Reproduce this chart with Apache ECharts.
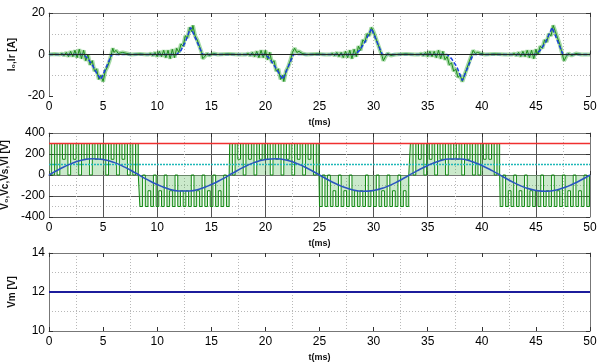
<!DOCTYPE html>
<html>
<head>
<meta charset="utf-8">
<script src="https://cdn.jsdelivr.net/npm/echarts@6/dist/echarts.min.js"></script>
<style>
  html, body { margin: 0; padding: 0; background: #fff; }
  #chart { width: 598px; height: 363px; }
</style>
</head>
<body>
<div id="chart"></div>
<script>
// ---- data ----
const xTicks = [0, 5, 10, 15, 20, 25, 30, 35, 40, 45, 50];

// reference current Ir (blue dashed), [t(ms), A]
const irPoints = [
  [0, 0], [3.2, 0], [3.6, -2], [4.0, -5], [4.4, -9], [4.8, -12], [5.8, 0],
  [11.8, 0], [12.2, 2], [12.6, 6], [13.1, 13], [14.2, 0],
  [20.0, 0], [20.4, -2], [20.9, -6], [21.6, -12], [22.6, 0],
  [28.3, 0], [28.7, 2], [29.2, 6], [29.8, 12.5], [30.8, 0],
  [36.8, 0], [37.2, -2], [37.7, -6], [38.2, -12.5], [39.2, 0],
  [45.0, 0], [45.4, 2], [45.9, 6], [46.5, 13], [47.5, 0], [50, 0]
];

// measured current Io (green, noisy), [t(ms), A]
const ioPoints = [
  [0, 0], [0.5, 0.2], [1.0, 0], [1.2, 0.5], [1.4, -0.5], [1.6, 1], [1.8, -1], [2.0, 1.5],
  [2.2, -1], [2.4, 2], [2.6, -1.5], [2.8, 2.5], [3.0, -2], [3.2, 2], [3.4, -3], [3.6, 0],
  [3.8, -5], [4.0, -3], [4.2, -8], [4.4, -7], [4.6, -12], [4.8, -10], [5.0, -13], [5.2, -8],
  [5.4, -6], [5.6, -3], [5.8, 1], [5.9, 3], [6.0, 1], [6.2, 2], [6.4, 0.5], [6.8, 1],
  [7.2, 0.5], [7.6, 0], [8.4, 0.3], [9.0, 0],
  [9.2, 0], [9.4, 0.5], [9.6, -0.5], [9.8, 1], [10.0, -1], [10.2, 1.5], [10.4, -1], [10.6, 2],
  [10.8, -1.5], [11.0, 2], [11.2, -2], [11.4, 2.5], [11.6, -1.5], [11.8, 3], [12.0, 1], [12.2, 5],
  [12.4, 4], [12.6, 9], [12.8, 8], [13.0, 13], [13.2, 11], [13.3, 14], [13.5, 9], [13.7, 7],
  [13.9, 4], [14.1, 1], [14.2, -2], [14.4, -1], [14.6, 0.5], [14.8, -0.5], [15.2, 0.5], [15.6, 0],
  [16.6, 0.3], [17.5, 0],
  [18.2, 0], [18.4, 0.5], [18.6, -0.5], [18.8, 1], [19.0, -1], [19.2, 1.5], [19.4, -1.5], [19.6, 2],
  [19.8, -1.5], [20.0, 2], [20.2, -2.5], [20.4, 1], [20.6, -4], [20.8, -3], [21.0, -8], [21.2, -7],
  [21.4, -12], [21.6, -10], [21.7, -13], [21.9, -8], [22.1, -6], [22.3, -3], [22.5, 1], [22.7, 3],
  [22.9, 1], [23.1, 1.5], [23.4, 0.5], [23.8, 0], [24.8, 0.3], [25.5, 0],
  [26.0, 0], [26.2, 0.5], [26.4, -0.5], [26.6, 1], [26.8, -1], [27.0, 1], [27.2, -1.5], [27.4, 1.5],
  [27.6, -1.5], [27.8, 2], [28.0, -2], [28.2, 2.5], [28.4, -1], [28.6, 4], [28.8, 2], [29.0, 7],
  [29.2, 6], [29.4, 10], [29.6, 9], [29.8, 13], [30.0, 11], [30.2, 8], [30.4, 5], [30.6, 2],
  [30.8, -1], [30.9, -3], [31.1, -1], [31.3, 0.5], [31.6, -0.5], [32.0, 0], [33.0, 0.3], [33.8, 0],
  [34.2, 0], [34.4, 0.5], [34.6, -0.5], [34.8, 1], [35.0, -1], [35.2, 1.5], [35.4, -1], [35.6, 1.5],
  [35.8, -1.5], [36.0, 2], [36.2, -2], [36.4, 1.5], [36.6, -2.5], [36.8, -1], [37.0, -5], [37.2, -4],
  [37.4, -8], [37.6, -7], [37.8, -11], [38.0, -10], [38.2, -13], [38.4, -10], [38.6, -7], [38.8, -4],
  [39.0, -1], [39.2, 2], [39.4, 0.5], [39.6, 1], [39.9, 0.5], [40.3, 0], [41.2, 0.3], [42.2, 0],
  [42.8, 0], [43.0, 0.5], [43.2, -0.5], [43.4, 1], [43.6, -1], [43.8, 1.5], [44.0, -1], [44.2, 2],
  [44.4, -1.5], [44.6, 2], [44.8, -2], [45.0, 2.5], [45.2, 0], [45.4, 4], [45.6, 3], [45.8, 7],
  [46.0, 6], [46.2, 10], [46.4, 9], [46.6, 14], [46.8, 11], [47.0, 8], [47.2, 5], [47.4, 1],
  [47.6, -3], [47.8, -1], [48.0, 0.5], [48.3, -0.5], [48.7, 0.5], [49.2, 0], [50, 0]
];

// capacitor / load voltage Vc (blue sine), sampled every 1 ms
const vcTimes = [0, 1, 2, 3, 4, 5, 6, 7, 8, 9, 10, 11, 12, 13, 14, 15, 16, 17, 18, 19, 20,
  21, 22, 23, 24, 25, 26, 27, 28, 29, 30, 31, 32, 33, 34, 35, 36, 37, 38, 39, 40,
  41, 42, 43, 44, 45, 46, 47, 48, 49, 50];
const vcValues = [0, 57, 106, 140, 155, 147, 120, 75, 19, -39, -91, -131, -152, -152, -131, -91, -39, 19, 75, 120, 147,
  155, 140, 106, 57, 0, -57, -106, -140, -155, -147, -120, -75, -19, 39, 91, 131, 152, 152, 131, 91,
  39, -19, -75, -120, -147, -155, -140, -106, -57, 0];

// source Vs (red) and Vl (cyan) levels
const vsTimes = [0, 50];
const vsValues = [300, 300];
const vlTimes = [0, 50];
const vlValues = [100, 100];

// inverter output Vo (green PWM): start of each half cycle and its levels every 0.25 ms
const halfStarts = [0, 8.4, 16.7, 25.0, 33.4, 41.7];
const pwmStep = 0.25;
const pwmLevels = [
  [300, 0, 300, 0, 300, 150, 300, 0, 300, 150, 300, 0, 300, 150, 300, 0, 300, 150, 300, 150, 300, 0, 300, 150, 300, 0, 300, 150, 300, 0, 300, 0, 300],
  [-300, 0, -300, -150, -300, 0, -300, -150, -300, 0, -300, -150, -300, 0, -300, -150, -300, -150, -300, 0, -300, -150, -300, 0, -300, -150, -300, 0, -300, -150, -300, 0, -300],
  [300, 0, 300, 150, 300, 0, 300, 150, 300, 0, 300, 150, 300, 150, 300, 0, 300, 150, 300, 0, 300, 150, 300, 0, 300, 150, 300, 0, 300, 150, 300, 0, 300],
  [-300, 0, -300, 0, -300, -150, -300, 0, -300, -150, -300, 0, -300, -150, -300, -150, -300, 0, -300, -150, -300, 0, -300, -150, -300, 0, -300, -150, -300, 0, -300, -150, -300],
  [300, 0, 300, 150, 300, 0, 300, 150, 300, 0, 300, 150, 300, 0, 300, 150, 300, 150, 300, 0, 300, 150, 300, 0, 300, 0, 300, 150, 300, 150, 300, 0, 300],
  [-300, 0, -300, -150, -300, 0, -300, -150, -300, 0, -300, -150, -300, -150, -300, 0, -300, -150, -300, 0, -300, -150, -300, 0, -300, -150, -300, 0, -300, -150, -300, 0, -300]
];

// motor voltage Vm
const vmTimes = [0, 50];
const vmValues = [12, 12];

// ---- build ----
const zip = (xs, ys) => xs.map((x, i) => [x, ys[i]]);

const pwmData = [];
halfStarts.forEach((t0, h) => {
  const lv = pwmLevels[h];
  lv.forEach((v, i) => pwmData.push([+(t0 + i * pwmStep).toFixed(3), v]));
  pwmData.push([+(t0 + lv.length * pwmStep).toFixed(3), 0]);
});
pwmData.push([50, 0]);

const font = "'Liberation Sans', Arial, sans-serif";
const grids = [
  { left: 49, right: 8, top: 13, height: 83, outerBoundsMode: 'none' },
  { left: 49, right: 8, top: 133, height: 84, outerBoundsMode: 'none' },
  { left: 49, right: 8, top: 253, height: 78, outerBoundsMode: 'none' }
];

const dotted = { show: true, lineStyle: { color: '#b8b8b8', type: [1, 2], width: 1 } };
const solidGrid = { show: true, lineStyle: { color: '#555', type: 'solid', width: 1 } };

function xAxisFor(i, splitLine) {
  return [{
    type: 'value', gridIndex: i, min: 0, max: 50, interval: 5,
    name: 't(ms)', nameLocation: 'middle', nameGap: 22,
    nameTextStyle: { fontFamily: font, fontWeight: 'bold', fontSize: 9, color: '#111' },
    axisLine: { show: true, lineStyle: { color: '#777' } },
    axisTick: { show: true, inside: true, length: 4, lineStyle: { color: '#333' } },
    axisLabel: { fontFamily: font, fontSize: 12, color: '#000', margin: 5 },
    splitLine: splitLine,
    minorTick: { show: false, splitNumber: 2 },
    minorSplitLine: dotted
  }, {
    type: 'value', gridIndex: i, position: 'top', min: 0, max: 50, interval: 5,
    axisLine: { show: true, onZero: false, lineStyle: { color: '#777' } },
    axisTick: { show: true, inside: true, length: 4, lineStyle: { color: '#333' } },
    axisLabel: { show: false }, splitLine: { show: false }
  }];
}

function yAxisFor(i, min, max, interval, name, splitLine) {
  return [{
    type: 'value', gridIndex: i, min: min, max: max, interval: interval,
    name: name, nameLocation: 'middle', nameGap: 32, nameRotate: 90,
    nameTextStyle: { fontFamily: font, fontWeight: 'bold', fontSize: 10, color: '#111' },
    axisLine: { show: true, onZero: false, lineStyle: { color: '#777' } },
    axisTick: { show: true, inside: true, length: 4, lineStyle: { color: '#333' } },
    axisLabel: { fontFamily: font, fontSize: 12, color: '#000', margin: 4 },
    splitLine: splitLine,
    minorTick: { show: false, splitNumber: 2 },
    minorSplitLine: dotted
  }, {
    type: 'value', gridIndex: i, position: 'right', min: min, max: max, interval: interval,
    axisLine: { show: true, onZero: false, lineStyle: { color: '#777' } },
    axisTick: { show: true, inside: true, length: 4, lineStyle: { color: '#333' } },
    axisLabel: { show: false }, splitLine: { show: false }
  }];
}

const chart = echarts.init(document.getElementById('chart'), null, { renderer: 'canvas' });

chart.setOption({
  animation: false,
  backgroundColor: '#fff',
  grid: grids,
  xAxis: [
    ...xAxisFor(0, dotted),
    ...xAxisFor(1, solidGrid),
    ...xAxisFor(2, { show: false })
  ],
  yAxis: [
    ...yAxisFor(0, -20, 20, 20, 'I\u2080,Ir [A]', { show: false }),
    ...yAxisFor(1, -400, 400, 200, 'V\u2080,Vc,Vs,Vl [V]', solidGrid),
    ...yAxisFor(2, 10, 14, 2, 'Vm [V]', { show: false })
  ],
  series: [
    // panel 1
    {
      type: 'line', xAxisIndex: 0, yAxisIndex: 0, data: ioPoints, symbol: 'none',
      lineStyle: { color: 'rgba(90,185,90,0.55)', width: 4 },
      markLine: {
        silent: true, symbol: 'none', label: { show: false },
        lineStyle: { color: '#222', type: 'solid', width: 1 },
        data: [{ yAxis: 0 }]
      },
      z: 2
    },
    {
      type: 'line', xAxisIndex: 0, yAxisIndex: 0, data: ioPoints, symbol: 'none',
      lineStyle: { color: '#1e8c1e', width: 1 }, z: 3
    },
    {
      type: 'line', xAxisIndex: 0, yAxisIndex: 0, data: irPoints, symbol: 'none',
      lineStyle: { color: '#1a3fe0', width: 1.5, type: [4, 2] }, z: 4
    },
    // panel 2
    {
      type: 'line', xAxisIndex: 2, yAxisIndex: 2, data: pwmData, step: 'end', symbol: 'none',
      lineStyle: { color: '#138a13', width: 1 },
      areaStyle: { color: 'rgba(70,175,70,0.4)', origin: 0 }, z: 2
    },
    {
      type: 'line', xAxisIndex: 2, yAxisIndex: 2, data: zip(vsTimes, vsValues), symbol: 'none',
      lineStyle: { color: '#f03030', width: 1.5 }, z: 3
    },
    {
      type: 'line', xAxisIndex: 2, yAxisIndex: 2, data: zip(vlTimes, vlValues), symbol: 'none',
      lineStyle: { color: '#1fb8b8', width: 1.5, type: [2, 1] }, z: 3
    },
    {
      type: 'line', xAxisIndex: 2, yAxisIndex: 2, data: zip(vcTimes, vcValues), symbol: 'none',
      smooth: true, lineStyle: { color: '#2a55c0', width: 1.5 }, z: 4
    },
    // panel 3
    {
      type: 'line', xAxisIndex: 4, yAxisIndex: 4, data: zip(vmTimes, vmValues), symbol: 'none',
      lineStyle: { color: '#1c1c9c', width: 2 }, z: 3
    }
  ]
});

window.addEventListener('resize', () => chart.resize());
</script>
</body>
</html>
